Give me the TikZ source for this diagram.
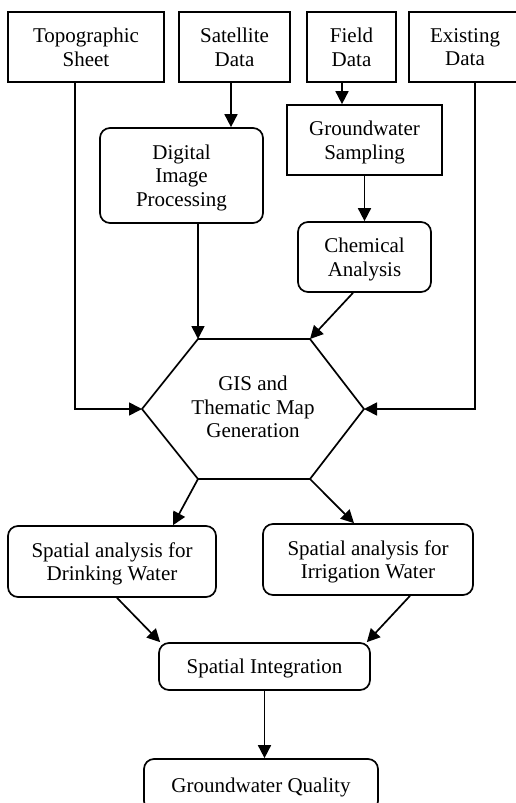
\documentclass[tikz,border=0pt]{standalone}
\usepackage{fontspec}
\setmainfont{Liberation Serif}
\usetikzlibrary{arrows.meta}
\begin{document}
\begin{tikzpicture}[x=1pt, y=-1pt, line width=1.7pt,
   every node/.style={font=\fontsize{21}{23.6}\selectfont, align=center,
     inner sep=0pt, text depth=0pt},
   sqbox/.style 2 args={draw, minimum width=#1pt, minimum height=#2pt},
   rbox/.style 2 args={draw, rounded corners=10pt, minimum width=#1pt, minimum height=#2pt},
   arr/.style={-{Triangle[length=13pt,width=13pt]}}]
\useasboundingbox (0,0) rectangle (515,803);
\node[sqbox={156}{70}] (topo)  at (86,47)    {Topographic\\Sheet};
\node[sqbox={111}{70}] (sat)   at (234.5,47) {Satellite\\Data};
\node[sqbox={89}{70}]  (field) at (351.5,47) {Field\\Data};
\node[sqbox={112}{70}] (exist) at (465,47)   {Existing\\Data};
\node[rbox={163}{95}]  (dip)   at (181.5,175.5) {Digital\\Image\\Processing};
\node[sqbox={155}{70}] (gws)   at (364.5,140) {Groundwater\\Sampling};
\node[rbox={133}{70}]  (chem)  at (364.5,257) {Chemical\\Analysis};
\coordinate (hexTL) at (198,339);
\coordinate (hexTR) at (310,339);
\coordinate (hexR)  at (364,409);
\coordinate (hexBR) at (310,479);
\coordinate (hexBL) at (198,479);
\coordinate (hexL)  at (142,409);
\draw (hexTL) -- (hexTR) -- (hexR) -- (hexBR) -- (hexBL) -- (hexL) -- cycle;
\node (gis) at (253,407) {GIS and\\Thematic Map\\Generation};
\node[rbox={208}{71}]  (drink) at (112,561.5) {Spatial analysis for\\Drinking Water};
\node[rbox={210}{71}]  (irr)   at (368,559.5) {Spatial analysis for\\Irrigation Water};
\node[rbox={211}{47}]  (integ) at (264.5,666.5) {Spatial Integration};
\node[rbox={234}{52}]  (qual)  at (261,785) {Groundwater Quality};
\coordinate (satx)   at ([xshift=-3.5pt]sat.south);
\coordinate (fieldx) at ([xshift=-9.5pt]field.south);
\draw[arr] ([xshift=-11pt]topo.south) |- (hexL);
\draw[arr] ([xshift=10pt]exist.south) |- (hexR);
\draw[arr] (satx) -- (satx |- dip.north);
\draw[arr] (fieldx) -- (fieldx |- gws.north);
\draw[arr] (gws.south) -- (chem.north);
\draw[arr] (dip.south -| hexTL) -- (hexTL);
\draw[arr] ([xshift=-11.5pt]chem.south) -- (hexTR);
\draw[arr] (hexBL) -- ([xshift=61pt]drink.north);
\draw[arr] (hexBR) -- ([xshift=-14pt]irr.north);
\draw[arr] ([xshift=5pt]drink.south) -- ([xshift=2pt]integ.north west);
\draw[arr] ([xshift=42pt]irr.south) -- ([xshift=-4pt]integ.north east);
\draw[arr] (integ.south) -- (integ.south |- qual.north);
\end{tikzpicture}
\end{document}
